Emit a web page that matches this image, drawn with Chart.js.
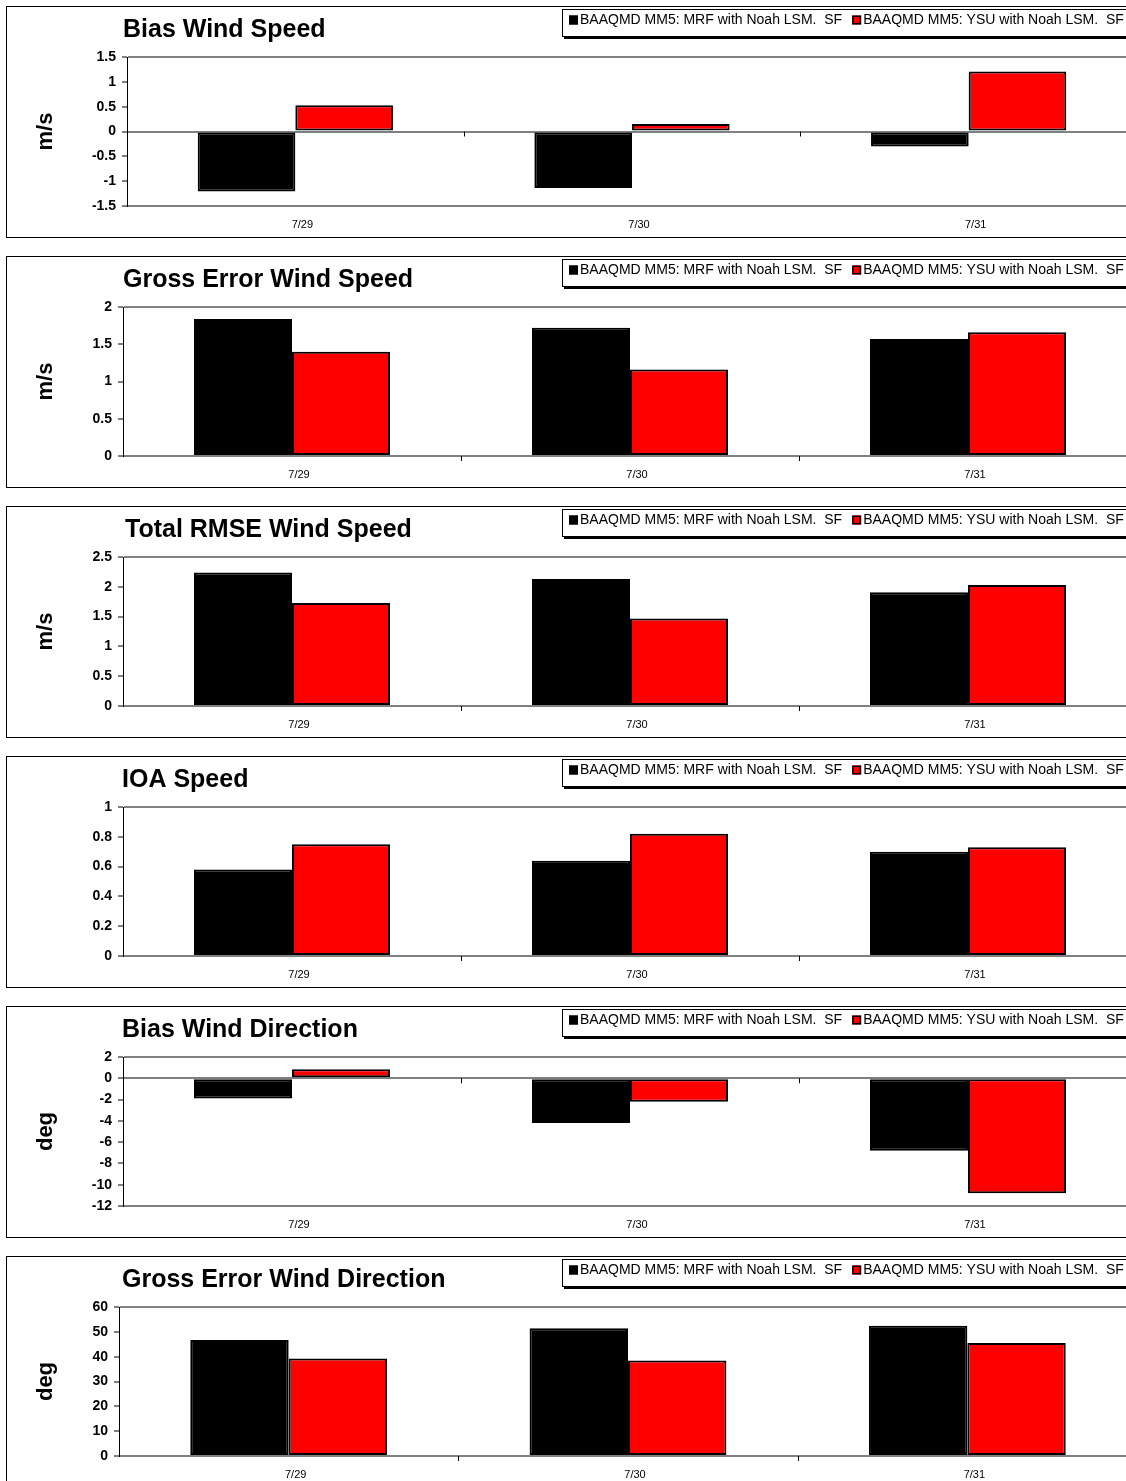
<!DOCTYPE html>
<html>
<head>
<meta charset="utf-8">
<title>BAAQMD MM5 wind statistics</title>
<script src="https://cdn.jsdelivr.net/npm/chart.js@4.4.1/dist/chart.umd.min.js"></script>
<style>
  html, body { margin: 0; padding: 0; background: #fff; overflow: hidden; width: 1126px; height: 1481px; }
  .panel { position: absolute; left: 6px; width: 1200px; height: 230px; border: 1px solid #000; box-sizing: content-box; }
  canvas.chart { position: absolute; left: 0; }
</style>
</head>
<body>
<script>
// Dates on the category axis
const categories = ['7/29', '7/30', '7/31'];

// The two model configurations compared
const seriesNames = [
  'BAAQMD MM5: MRF with Noah LSM.  SF',
  'BAAQMD MM5: YSU with Noah LSM.  SF'
];

// Panel titles and y-axis units
const panelTitles = [
  'Bias Wind Speed',
  'Gross Error Wind Speed',
  'Total RMSE Wind Speed',
  'IOA Speed',
  'Bias Wind Direction',
  'Gross Error Wind Direction'
];
const panelUnits = ['m/s', 'm/s', 'm/s', '', 'deg', 'deg'];

// Statistic values, MRF and YSU runs
const biasSpeedMrf = [-1.21, -1.14, -0.30];
const biasSpeedYsu = [0.53, 0.15, 1.21];
const grossSpeedMrf = [1.84, 1.72, 1.57];
const grossSpeedYsu = [1.40, 1.16, 1.66];
const rmseSpeedMrf = [2.24, 2.13, 1.91];
const rmseSpeedYsu = [1.73, 1.47, 2.03];
const ioaSpeedMrf = [0.58, 0.64, 0.70];
const ioaSpeedYsu = [0.75, 0.82, 0.73];
const biasDirMrf = [-1.9, -4.2, -6.8];
const biasDirYsu = [0.85, -2.2, -10.8];
const grossDirMrf = [46.7, 51.4, 52.5];
const grossDirYsu = [39.3, 38.5, 45.5];

// y-axis ranges: [min, max, step]
const axisRanges = [
  [-1.5, 1.5, 0.5],
  [0, 2, 0.5],
  [0, 2.5, 0.5],
  [0, 1, 0.2],
  [-12, 2, 2],
  [0, 60, 10]
];

const panelSeries = [
  [biasSpeedMrf, biasSpeedYsu],
  [grossSpeedMrf, grossSpeedYsu],
  [rmseSpeedMrf, rmseSpeedYsu],
  [ioaSpeedMrf, ioaSpeedYsu],
  [biasDirMrf, biasDirYsu],
  [grossDirMrf, grossDirYsu]
];

// Layout of each panel (pixels within its canvas)
const PANEL_H = 250;
const CANVAS_W = 1140;
const plotLeft = [127, 123, 123, 123, 123, 119];
const titleLeft = [123, 123, 125, 122, 122, 122];
const FONT = '"Liberation Sans", Arial, Helvetica, sans-serif';
const barColors = ['#000000', '#ff0000'];
const GRAY = '#808080';

// Panel title and boxed legend drawn on top of each chart
const headerPlugin = {
  id: 'header',
  afterDraw(chart, args, opts) {
    const ctx = chart.ctx;
    ctx.save();
    ctx.fillStyle = '#000';
    ctx.font = 'bold 25px ' + FONT;
    ctx.textBaseline = 'middle';
    ctx.textAlign = 'left';
    ctx.fillText(opts.title, opts.titleX, 30);

    // legend box
    const bx = 562, by = 9, bh = 27;
    ctx.strokeStyle = '#000';
    ctx.lineWidth = 1;
    ctx.strokeRect(bx + 0.5, by + 0.5, chart.width, bh);
    ctx.fillStyle = '#000';
    ctx.fillRect(bx + 2, by + bh + 1, chart.width, 2);

    ctx.font = '14px ' + FONT;
    let x = bx + 7;
    const cy = by + 11;
    chart.data.datasets.forEach((ds) => {
      ctx.fillStyle = ds.backgroundColor;
      ctx.fillRect(x, cy - 4.5, 9, 9);
      ctx.strokeStyle = '#000';
      ctx.lineWidth = 1.5;
      ctx.strokeRect(x + 0.75, cy - 3.75, 7.5, 7.5);
      ctx.fillStyle = '#000';
      ctx.fillText(ds.label, x + 11, cy);
      x += 11 + ctx.measureText(ds.label).width + 10;
    });
    ctx.restore();
  }
};

// Small category divider ticks on the zero line
const dividerPlugin = {
  id: 'dividers',
  afterDatasetsDraw(chart) {
    const xs = chart.scales.x, ys = chart.scales.y;
    const area = chart.chartArea;
    let y0 = ys.getPixelForValue(0);
    y0 = Math.min(Math.max(y0, area.top), area.bottom);
    const ctx = chart.ctx;
    ctx.save();
    ctx.strokeStyle = '#000';
    ctx.lineWidth = 1;
    for (let i = 0; i < categories.length - 1; i++) {
      const xb = Math.round((xs.getPixelForValue(i) + xs.getPixelForValue(i + 1)) / 2) + 0.5;
      ctx.beginPath();
      ctx.moveTo(xb, y0);
      ctx.lineTo(xb, y0 + 5);
      ctx.stroke();
    }
    ctx.restore();
  }
};

function fmt(v) {
  return String(Number(v.toFixed(3)));
}

panelTitles.forEach((title, i) => {
  const panel = document.createElement('div');
  panel.className = 'panel';
  panel.style.top = (6 + PANEL_H * i) + 'px';
  document.body.appendChild(panel);

  const canvas = document.createElement('canvas');
  canvas.className = 'chart';
  canvas.width = CANVAS_W;
  canvas.height = PANEL_H;
  canvas.style.top = (PANEL_H * i) + 'px';
  canvas.style.width = CANVAS_W + 'px';
  canvas.style.height = PANEL_H + 'px';
  document.body.appendChild(canvas);

  const [yMin, yMax, yStep] = axisRanges[i];
  const leftEdge = plotLeft[i];

  new Chart(canvas.getContext('2d'), {
    type: 'bar',
    data: {
      labels: categories,
      datasets: panelSeries[i].map((vals, k) => ({
        label: seriesNames[k],
        data: vals,
        backgroundColor: barColors[k],
        borderColor: '#000',
        borderWidth: 2,
        borderSkipped: false,
        categoryPercentage: 0.58,
        barPercentage: 1.0
      }))
    },
    options: {
      responsive: false,
      animation: false,
      devicePixelRatio: 1,
      layout: { padding: { top: 57, right: 3, bottom: 0, left: 0 } },
      plugins: {
        legend: { display: false },
        title: { display: false },
        tooltip: { enabled: false },
        header: { title: title, titleX: titleLeft[i] }
      },
      scales: {
        x: {
          grid: { display: false, drawTicks: false },
          border: { display: false },
          ticks: {
            color: '#000',
            font: { family: FONT, size: 11 },
            padding: 12,
            labelOffset: 7,
            maxRotation: 0,
            autoSkip: false
          },
          afterFit(scale) { scale.height = 44; }
        },
        y: {
          min: yMin,
          max: yMax,
          ticks: {
            stepSize: yStep,
            color: '#000',
            font: { family: FONT, size: 14, weight: 'bold' },
            padding: 6,
            callback: (v) => fmt(v)
          },
          grid: {
            color: (c) => {
              const v = c.tick ? c.tick.value : null;
              if (v === null) return 'rgba(0,0,0,0)';
              return (Math.abs(v) < 1e-9 || Math.abs(v - yMin) < 1e-9 || Math.abs(v - yMax) < 1e-9) ? GRAY : 'rgba(0,0,0,0)';
            },
            lineWidth: 2,
            tickColor: '#000',
            tickWidth: 1,
            tickLength: 5,
            drawTicks: true
          },
          border: { display: true, color: '#000', width: 1 },
          title: {
            display: panelUnits[i] !== '',
            text: panelUnits[i],
            color: '#000',
            font: { family: FONT, size: 22, weight: 'bold' },
            padding: { top: 33, bottom: 0 }
          },
          afterFit(scale) { scale.width = leftEdge; }
        }
      }
    },
    plugins: [headerPlugin, dividerPlugin]
  });
});
</script>
</body>
</html>
